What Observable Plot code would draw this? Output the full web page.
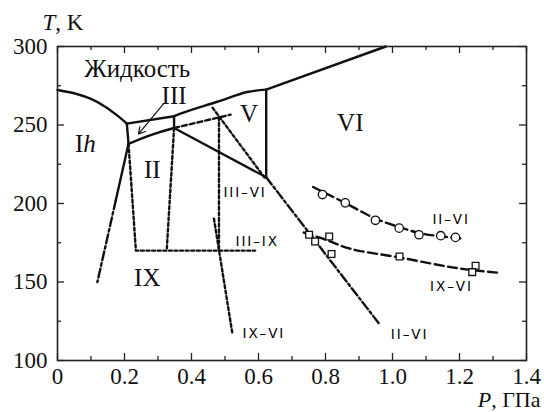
<!DOCTYPE html>
<html><head><meta charset="utf-8">
<script src="https://cdn.jsdelivr.net/npm/d3@7"></script>
<script src="https://cdn.jsdelivr.net/npm/@observablehq/plot@0.6"></script>
<style>
html,body{margin:0;padding:0;background:#fff;}
</style>
</head><body><div id="chart"></div>
<script>
// Phase diagram of water ice: pressure P (GPa) versus temperature T (K)

// Stable phase boundaries
const liquidIh  = [[0, 272.3], [0.06, 269.6], [0.10, 266.6], [0.14, 262.0], [0.18, 255.8], [0.207, 250.9]];
const liquidIII = [[0.207, 250.9], [0.348, 255.6]];
const ihIII     = [[0.207, 250.9], [0.212, 238.0]];
const iiIII     = [[0.212, 238.0], [0.278, 243.6], [0.348, 248.1]];
const iiiV      = [[0.348, 255.6], [0.348, 248.1]];
const liquidV   = [[0.348, 255.6], [0.38, 258.2], [0.477, 264.8], [0.566, 271.0], [0.623, 272.5]];
const liquidVI  = [[0.623, 272.5], [0.98, 300]];
const vVI       = [[0.623, 272.5], [0.623, 216.7]];
const iiV       = [[0.348, 248.1], [0.623, 216.7]];
const ihII      = [[0.212, 238.0], [0.174, 202.0]];

// Extrapolated boundaries (dash-dot)
const ihIIext = [[0.174, 202.0], [0.119, 150.0]];
const iiVIext = [[0.623, 216.7], [0.962, 122.9]];

// Metastable boundaries (dotted)
const iiiIXa = [[0.212, 238.0], [0.234, 170.0], [0.59, 170.0]];
const iiiIXb = [[0.348, 248.1], [0.326, 170.0]];
const vIX    = [[0.482, 255.0], [0.482, 170.0]];
const ixVI   = [[0.467, 190.3], [0.522, 117.2]];
const iiiVI  = [[0.463, 261.0], [0.618, 216.5]];
// Metastable II–V continuation (dashed)
const iiVext = [[0.348, 248.1], [0.517, 256.6]];

// Measured transition points and their fitted curves
const iiVIpoints = [[0.791, 205.7], [0.859, 200.4], [0.949, 189.3], [1.020, 184.3], [1.079, 180.1], [1.144, 179.5], [1.188, 178.4]];
const iiVIfit    = [[0.763, 210.5], [0.859, 200.3], [0.95, 190.3], [1.02, 185.0], [1.08, 181.2], [1.14, 179.2], [1.21, 177.6]];
const ixVIpoints = [[0.751, 180.1], [0.769, 175.8], [0.811, 179.0], [0.818, 167.8], [1.021, 166.3], [1.248, 160.4], [1.238, 156.3]];
const ixVIfit    = [[0.735, 181.5], [0.80, 177.0], [0.874, 171.2], [1.024, 165.5], [1.173, 159.5], [1.242, 157.5], [1.312, 156.0]];

// Phase names
const phaseLabels = [
  {text: "Жидкость", P: 0.238, T: 285.8},
  {text: "III", P: 0.348, T: 268.7},
  {text: "V", P: 0.572, T: 256.9},
  {text: "VI", P: 0.874, T: 251.3},
  {text: "Ih", P: 0.083, T: 237.8},
  {text: "II", P: 0.283, T: 221.1},
  {text: "IX", P: 0.268, T: 152.6}
];
// Transition names
const transitionLabels = [
  {text: "III–VI", P: 0.560, T: 206.8},
  {text: "III–IX", P: 0.596, T: 175.5},
  {text: "IX–VI", P: 0.616, T: 117.2},
  {text: "II–VI", P: 1.175, T: 189.7},
  {text: "IX–VI", P: 1.176, T: 147.2},
  {text: "II–VI", P: 1.051, T: 116.5}
];
// Pointer from the "III" label into the narrow ice III field
const pointer = [{P1: 0.317, T1: 263.6, P2: 0.242, T2: 244.3}];

// Axis ticks
const xTicks = [0, 0.2, 0.4, 0.6, 0.8, 1.0, 1.2, 1.4];
const yTicks = [100, 150, 200, 250, 300];
const xMinor = [0.1, 0.3, 0.5, 0.7, 0.9, 1.1, 1.3];
const yMinor = [125, 175, 225, 275];

const W = 544, H = 412, mT = 46, mB = 52, mL = 57, mR = 18;
const plotW = W - mL - mR, plotH = H - mT - mB;
const major = 7, minor = 4;
const lw = 2.4;
const serif = "Liberation Serif";
const sans = "DejaVu Sans";
const fs = 23;

const solid = [liquidIh, liquidIII, ihIII, iiIII, iiiV, liquidV, liquidVI, vVI, iiV, ihII];
const dashDot = [ihIIext, iiVIext];
const dotted = [iiiIXa, iiiIXb, vIX, ixVI, iiiVI];

const tickMarks = (vals, len) => [
  Plot.tickX(vals, {x: d => d, insetTop: plotH - len, stroke: "#222", strokeWidth: 1.3}),
  Plot.tickX(vals, {x: d => d, insetBottom: plotH - len, stroke: "#222", strokeWidth: 1.3})
];
const tickMarksY = (vals, len) => [
  Plot.tickY(vals, {y: d => d, insetRight: plotW - len, stroke: "#222", strokeWidth: 1.3}),
  Plot.tickY(vals, {y: d => d, insetLeft: plotW - len, stroke: "#222", strokeWidth: 1.3})
];
const serifText = {fontFamily: serif, fontSize: fs, fill: "#111"};

const chart = Plot.plot({
  width: W, height: H,
  marginTop: mT, marginBottom: mB, marginLeft: mL, marginRight: mR,
  x: {domain: [0, 1.4], label: null},
  y: {domain: [100, 300], label: null},
  marks: [
    ...tickMarks(xTicks, major), ...tickMarks(xMinor, minor),
    ...tickMarksY(yTicks, major), ...tickMarksY(yMinor, minor),
    Plot.axisX({ticks: xTicks, tickSize: 0, tickPadding: 7, label: null,
      tickFormat: d => d === 0 ? "0" : d.toFixed(1), ...serifText}),
    Plot.axisY({ticks: yTicks, tickSize: 0, tickPadding: 10, label: null,
      tickFormat: d => String(d), ...serifText}),
    ...dotted.map(l => Plot.line(l, {stroke: "#111", strokeWidth: lw, strokeDasharray: "3,2.6"})),
    Plot.line(iiVext, {stroke: "#111", strokeWidth: lw, strokeDasharray: "5,3"}),
    ...dashDot.map(l => Plot.line(l, {stroke: "#111", strokeWidth: lw, strokeDasharray: "9,3,2.5,3"})),
    ...solid.map(l => Plot.line(l, {stroke: "#111", strokeWidth: lw, curve: "catmull-rom"})),
    Plot.line(iiVIfit, {stroke: "#111", strokeWidth: lw, strokeDasharray: "9,4.5", curve: "catmull-rom"}),
    Plot.line(ixVIfit, {stroke: "#111", strokeWidth: lw, strokeDasharray: "9,4.5", curve: "catmull-rom"}),
    Plot.dot(iiVIpoints, {symbol: "circle", r: 4.2, fill: "#fff", stroke: "#111", strokeWidth: 1.3}),
    Plot.dot(ixVIpoints, {symbol: "square", r: 3.8, fill: "#fff", stroke: "#111", strokeWidth: 1.3}),
    Plot.arrow(pointer, {x1: "P1", y1: "T1", x2: "P2", y2: "T2", stroke: "#111", strokeWidth: 1.2, headLength: 9}),
    Plot.text(phaseLabels, {x: "P", y: "T", text: "text", ...serifText, fontSize: 25}),
    Plot.text(transitionLabels, {x: "P", y: "T", text: "text", fill: "#000",
      fontFamily: sans, fontSize: 13.5}),
    Plot.text(["T, K"], {frameAnchor: "top-left", textAnchor: "start", lineAnchor: "bottom", dx: -15, dy: -17, ...serifText}),
    Plot.text(["P, ГПа"], {frameAnchor: "bottom-right", textAnchor: "end", lineAnchor: "bottom", dx: 14, dy: 46, ...serifText, fontSize: 22}),
    Plot.frame({stroke: "#222", strokeWidth: 1.6})
  ]
});

// Mixed roman/italic labels and spaced transition names
const rich = {
  "Ih": 'I<tspan font-style="italic">h</tspan>',
  "T, K": '<tspan font-style="italic">T</tspan>, K',
  "P, ГПа": '<tspan font-style="italic">P</tspan>, ГПа'
};
d3.select(chart).selectAll("text").each(function() {
  const t = this.textContent;
  if (rich[t]) this.innerHTML = rich[t];
  if (t.includes("–")) this.setAttribute("letter-spacing", "1.9");
});

document.getElementById("chart").appendChild(chart);
</script>
</body></html>
